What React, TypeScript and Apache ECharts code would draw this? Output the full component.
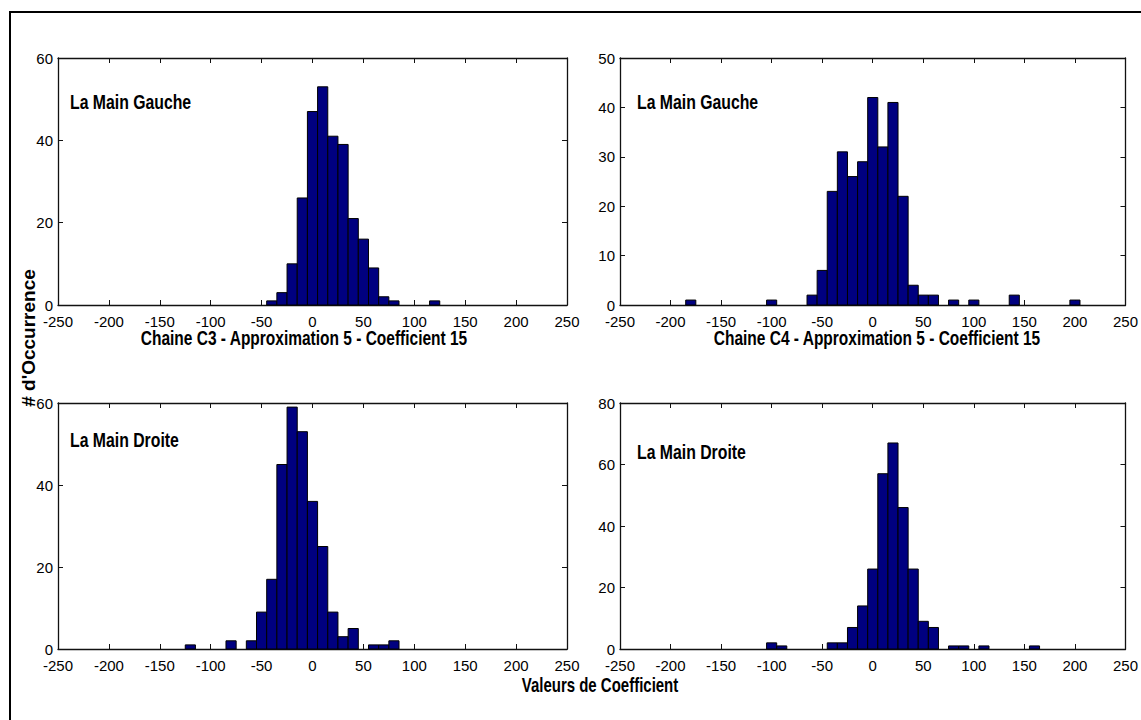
import React, { useEffect, useRef } from "react";
import * as echarts from "echarts";

const BIN_WIDTH = 10;
const X_MIN = -250;
const X_MAX = 250;
const X_STEP = 50;

// Panel 1: Chaine C3, La Main Gauche
const c3GaucheCenters = [-40, -30, -20, -10, 0, 10, 20, 30, 40, 50, 60, 70, 80, 120];
const c3GaucheCounts = [1, 3, 10, 26, 47, 53, 41, 39, 21, 16, 9, 2, 1, 1];

// Panel 2: Chaine C4, La Main Gauche
const c4GaucheCenters = [-180, -100, -60, -50, -40, -30, -20, -10, 0, 10, 20, 30, 40, 50, 60, 80, 100, 140, 200];
const c4GaucheCounts = [1, 1, 2, 7, 23, 31, 26, 29, 42, 32, 41, 22, 4, 2, 2, 1, 1, 2, 1];

// Panel 3: Chaine C3, La Main Droite
const c3DroiteCenters = [-120, -80, -60, -50, -40, -30, -20, -10, 0, 10, 20, 30, 40, 60, 70, 80];
const c3DroiteCounts = [1, 2, 2, 9, 17, 45, 59, 53, 36, 25, 9, 3, 5, 1, 1, 2];

// Panel 4: Chaine C4, La Main Droite
const c4DroiteCenters = [-100, -90, -40, -30, -20, -10, 0, 10, 20, 30, 40, 50, 60, 80, 90, 110, 160];
const c4DroiteCounts = [2, 1, 2, 2, 7, 14, 26, 57, 67, 46, 26, 9, 7, 1, 1, 1, 1];

const yMaxes = [60, 50, 60, 80];
const yIntervals = [20, 10, 20, 20];

const panelLabels = ["La Main Gauche", "La Main Gauche", "La Main Droite", "La Main Droite"];
const subtitleC3 = "Chaine C3 - Approximation 5 - Coefficient 15";
const subtitleC4 = "Chaine C4 - Approximation 5 - Coefficient 15";
const xAxisTitle = "Valeurs de Coefficient";
const yAxisTitle = "# d'Occurrence";

const SANS = "'Liberation Sans', Arial, sans-serif";

export default function App() {
  const ref = useRef<HTMLDivElement>(null);

  useEffect(() => {
    document.body.style.margin = "0";
    if (!ref.current) return;
    const chart = echarts.init(ref.current, null, { renderer: "svg" });

    const panels = [
      { centers: c3GaucheCenters, counts: c3GaucheCounts },
      { centers: c4GaucheCenters, counts: c4GaucheCounts },
      { centers: c3DroiteCenters, counts: c3DroiteCounts },
      { centers: c4DroiteCenters, counts: c4DroiteCounts },
    ];

    const grids = [
      { left: 58, top: 58, width: 509, height: 247 },
      { left: 620, top: 58, width: 509, height: 247 },
      { left: 58, top: 403, width: 509, height: 246 },
      { left: 620, top: 403, width: 509, height: 246 },
    ];

    const axisLine = { show: true, onZero: false, lineStyle: { color: "#111", width: 1.3 } };
    const axisTick = { show: true, inside: true, length: 5, lineStyle: { color: "#111", width: 1 } };
    const labelStyle = { color: "#000", fontFamily: SANS, fontSize: 15, showMinLabel: true, showMaxLabel: true };

    const xAxes: any[] = [];
    const yAxes: any[] = [];
    const series: any[] = [];

    panels.forEach((p, i) => {
      xAxes.push({
        type: "value",
        gridIndex: i,
        position: "bottom",
        min: X_MIN,
        max: X_MAX,
        interval: X_STEP,
        axisLine,
        axisTick,
        splitLine: { show: false },
        axisLabel: { ...labelStyle, margin: 9 },
      });
      xAxes.push({
        type: "value",
        gridIndex: i,
        position: "top",
        min: X_MIN,
        max: X_MAX,
        interval: X_STEP,
        axisLine,
        axisTick,
        splitLine: { show: false },
        axisLabel: { show: false },
      });
      yAxes.push({
        type: "value",
        gridIndex: i,
        position: "left",
        min: 0,
        max: yMaxes[i],
        interval: yIntervals[i],
        axisLine,
        axisTick,
        splitLine: { show: false },
        axisLabel: { ...labelStyle, margin: 5 },
      });
      yAxes.push({
        type: "value",
        gridIndex: i,
        position: "right",
        min: 0,
        max: yMaxes[i],
        interval: yIntervals[i],
        axisLine,
        axisTick,
        splitLine: { show: false },
        axisLabel: { show: false },
      });
      series.push({
        type: "custom",
        xAxisIndex: i * 2,
        yAxisIndex: i * 2,
        data: p.centers.map((c, j) => [c, p.counts[j]]),
        renderItem: (params: any, api: any) => {
          const x = api.value(0);
          const y = api.value(1);
          const p0 = api.coord([x - BIN_WIDTH / 2, y]);
          const p1 = api.coord([x + BIN_WIDTH / 2, 0]);
          return {
            type: "rect",
            shape: { x: p0[0], y: p0[1], width: p1[0] - p0[0], height: p1[1] - p0[1] },
            style: { fill: "#000080", stroke: "#000", lineWidth: 1 },
          };
        },
      });
    });

    const font = `bold 20px ${SANS}`;
    const narrowText = (text: string, x: number, y: number, align: string, sx: number) => ({
      type: "text",
      x,
      y,
      scaleX: sx,
      silent: true,
      style: { text, font, fill: "#000", textAlign: align, textVerticalAlign: "middle" },
    });

    const option: any = {
      animation: false,
      backgroundColor: "#fff",
      grid: grids,
      xAxis: xAxes,
      yAxis: yAxes,
      series,
      graphic: [
        {
          type: "rect",
          shape: { x: 10, y: 12, width: 1150, height: 740 },
          style: { fill: "none", stroke: "#000", lineWidth: 2 },
          silent: true,
        },
        narrowText(panelLabels[0], 70, 102, "left", 0.79),
        narrowText(panelLabels[1], 637, 102, "left", 0.79),
        narrowText(panelLabels[2], 70, 440, "left", 0.79),
        narrowText(panelLabels[3], 637, 452, "left", 0.79),
        narrowText(subtitleC3, 304, 338, "center", 0.775),
        narrowText(subtitleC4, 877, 338, "center", 0.775),
        narrowText(xAxisTitle, 600, 685, "center", 0.75),
        {
          type: "text",
          x: 28,
          y: 338,
          rotation: Math.PI / 2,
          silent: true,
          style: { text: yAxisTitle, font: `bold 19px ${SANS}`, fill: "#000", textAlign: "center", textVerticalAlign: "middle" },
        },
      ],
    };

    chart.setOption(option);
    return () => chart.dispose();
  }, []);

  return <div ref={ref} style={{ width: 1141, height: 720 }} />;
}
